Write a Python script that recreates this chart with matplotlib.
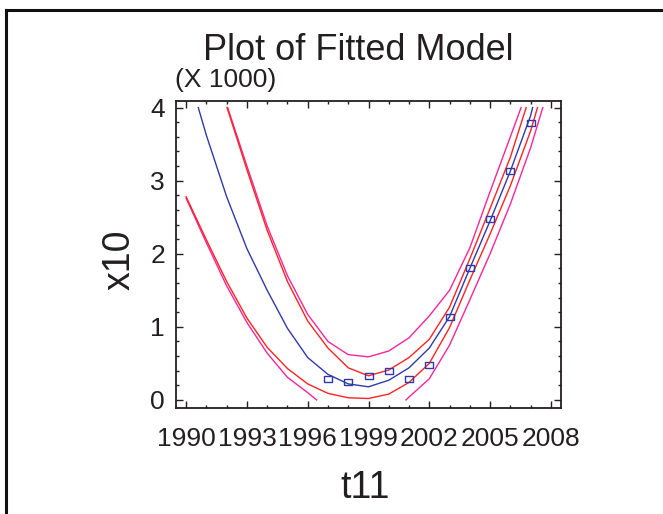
import matplotlib
matplotlib.use("Agg")
import matplotlib.pyplot as plt
from matplotlib.lines import Line2D
from matplotlib.ticker import MultipleLocator

plt.rcParams['font.family'] = ['Liberation Sans', 'DejaVu Sans']

# observed data (t11, x10 in thousands)
obs_t = [1997, 1998, 1999, 2000, 2001, 2002, 2003, 2004, 2005, 2006, 2007]
obs_y = [0.29, 0.24, 0.33, 0.39, 0.29, 0.48, 1.14, 1.80, 2.47, 3.13, 3.79]

# fitted model
fit_t = [1990.6, 1991, 1992, 1993, 1994, 1995, 1996, 1997, 1998, 1999, 2000,
         2001, 2002, 2003, 2004, 2005, 2006, 2007, 2007.1]
fit_y = [4.00, 3.62, 2.78, 2.07, 1.50, 0.98, 0.58, 0.35, 0.22, 0.18, 0.27,
         0.44, 0.71, 1.14, 1.80, 2.45, 3.13, 3.89, 4.00]

# confidence limits for the mean
conf_hi_t = [1992.02, 1993, 1994, 1995, 1996, 1997, 1998, 1999, 2000, 2001,
             2002, 2003, 2004, 2005, 2006, 2006.78]
conf_hi_y = [4.00, 3.15, 2.32, 1.62, 1.08, 0.71, 0.44, 0.33, 0.41, 0.58,
             0.83, 1.27, 1.93, 2.62, 3.32, 4.00]
conf_lo_t = [1990, 1991, 1992, 1993, 1994, 1995, 1996, 1997, 1998, 1999, 2000,
             2001, 2002, 2003, 2004, 2005, 2006, 2007, 2007.34]
conf_lo_y = [2.78, 2.19, 1.62, 1.12, 0.72, 0.43, 0.22, 0.09, 0.03, 0.02, 0.08,
             0.24, 0.50, 0.99, 1.64, 2.27, 2.93, 3.68, 4.00]

# prediction limits
pred_hi_t = [1992.05, 1993, 1994, 1995, 1996, 1997, 1998, 1999, 2000, 2001,
             2002, 2003, 2004, 2005, 2006, 2006.53]
pred_hi_y = [4.00, 3.20, 2.38, 1.70, 1.17, 0.80, 0.62, 0.59, 0.67, 0.85,
             1.15, 1.50, 2.08, 2.85, 3.60, 4.00]
pred_lo1_t = [1990, 1991, 1992, 1993, 1994, 1995, 1996, 1996.44]
pred_lo1_y = [2.76, 2.15, 1.56, 1.06, 0.64, 0.31, 0.10, 0.00]
pred_lo2_t = [2000.85, 2001, 2002, 2003, 2004, 2005, 2006, 2007, 2007.6]
pred_lo2_y = [0.00, 0.04, 0.29, 0.75, 1.37, 2.00, 2.68, 3.45, 4.00]

xticks = [1990, 1993, 1996, 1999, 2002, 2005, 2008]
yticks = [0, 1, 2, 3, 4]

BLUE = '#2f3aa8'
RED = '#ff2222'
MAG = '#f5259a'
INK = '#231f20'

fig = plt.figure(figsize=(6.63, 5.14), dpi=100)
ax = fig.add_axes([176/663, 106/514, 385/663, 307/514])

ax.plot(pred_hi_t, pred_hi_y, color=MAG, lw=1.0)
ax.plot(pred_lo1_t, pred_lo1_y, color=MAG, lw=1.0)
ax.plot(pred_lo2_t, pred_lo2_y, color=MAG, lw=1.0)
ax.plot(conf_hi_t, conf_hi_y, color=RED, lw=1.0)
ax.plot(conf_lo_t, conf_lo_y, color=RED, lw=1.0)
ax.plot(fit_t, fit_y, color=BLUE, lw=1.0)

box = [(-1, -0.75), (1, -0.75), (1, 0.75), (-1, 0.75), (-1, -0.75)]
ax.plot(obs_t, obs_y, linestyle='none', marker=box, markersize=6,
        markerfacecolor='none', markeredgecolor=BLUE, markeredgewidth=1.0)

ax.set_xlim(1989.5, 2008.5)
ax.set_ylim(-0.11, 4.09)
ax.set_xticks(xticks)
ax.set_yticks(yticks)
ax.xaxis.set_minor_locator(MultipleLocator(1))
ax.yaxis.set_minor_locator(MultipleLocator(0.2))
ax.tick_params(which='both', direction='in', top=True, right=True,
               width=1.0, color=INK, labelsize=19, labelcolor=INK)
ax.tick_params(which='major', length=5)
ax.tick_params(which='minor', length=2.5)
ax.tick_params(axis='x', pad=14)
ax.tick_params(axis='y', pad=8)
for s in ax.spines.values():
    s.set_linewidth(1.3)
    s.set_color(INK)

fig.text(358/663, 1 - 60/514, 'Plot of Fitted Model', ha='center', va='baseline',
         fontsize=26, color=INK)
fig.text(175/663, 1 - 87/514, '(X 1000)', ha='left', va='baseline',
         fontsize=19, color=INK)
fig.text(120/663, 1 - 260/514, 'x10', ha='center', va='center', rotation=90,
         fontsize=27, color=INK)
fig.text(365/663, 1 - 498/514, 't11', ha='center', va='baseline',
         fontsize=27, color=INK)

# outer frame of the chart window
fig.add_artist(Line2D([6/663, 6/663], [0, 1 - 10/514], transform=fig.transFigure,
                      color='#111111', lw=2.2))
fig.add_artist(Line2D([6/663, 1], [1 - 10/514, 1 - 10/514], transform=fig.transFigure,
                      color='#111111', lw=2.2))

fig.savefig('out.png', dpi=100)
